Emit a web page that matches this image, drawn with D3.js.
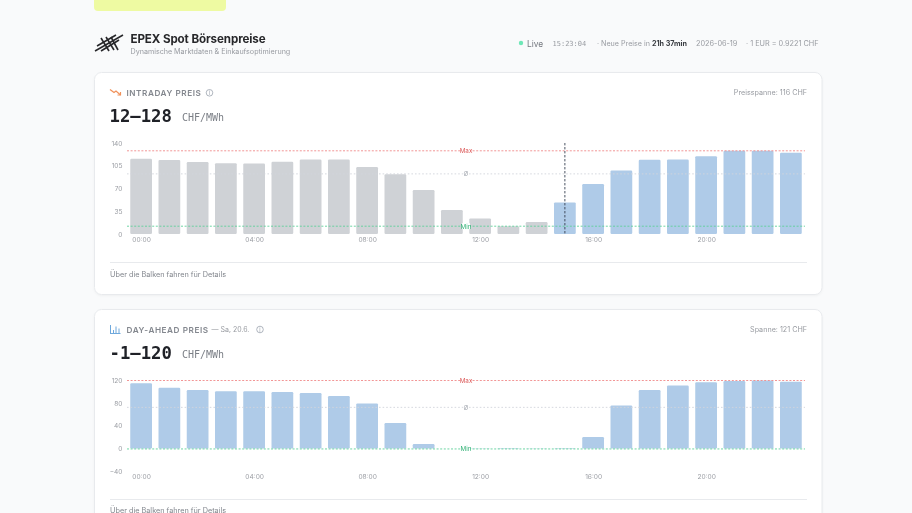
<!DOCTYPE html>
<html>
<head>
<meta charset="utf-8">
<script src="https://cdn.jsdelivr.net/npm/d3@7"></script>
<style>
html, body { margin: 0; padding: 0; background: #f9fafb; overflow: hidden; }
svg { display: block; font-family: Inter, "Noto Sans", sans-serif; will-change: transform; }
.mono { font-family: "DejaVu Sans Mono", monospace; }
.tick text { font-size: 6.6px; fill: #9a9da3; font-family: Inter, sans-serif; }
</style>
</head>
<body>
<svg id="chart" width="912" height="513"></svg>
<script>
const hours = d3.range(24);
const hourLabels = ["00:00", "04:00", "08:00", "12:00", "16:00", "20:00"];

const intradayValues = [115.7, 114, 110.6, 109, 108.5, 111, 114.7, 114.7, 103, 92, 67.6, 37,
  24, 12, 18.4, 48.6, 76.8, 97.8, 114.2, 114.7, 119.8, 128, 128, 125];
const intradayTicks = [0, 35, 70, 105, 140];
const intradayMin = 12, intradayMax = 128, intradayAvg = 92.5;
const currentHour = 15;

const dayAheadValues = [115, 107, 103, 101, 101, 99.6, 98, 92.5, 79.5, 44.8, 7.7, 0,
  -0.5, -1, -0.5, 0.5, 20, 76, 103, 111, 117, 119, 120, 118];
const dayAheadTicks = [-40, 0, 40, 80, 120];
const dayAheadMin = -1, dayAheadMax = 120, dayAheadAvg = 72.5;

const grey = "#cfd2d6", blue = "#afcbe8";
const svg = d3.select("#chart");

function txt(parent, x, y, s, size, fill, opts) {
  opts = opts || {};
  return parent.append("text").attr("x", x).attr("y", y).text(s)
    .attr("font-size", size).attr("fill", fill)
    .attr("font-weight", opts.weight || 400)
    .attr("text-anchor", opts.anchor || "start")
    .attr("letter-spacing", opts.spacing || null)
    .attr("class", opts.cls || null);
}

// banner
svg.append("rect").attr("x", 94).attr("y", -8).attr("width", 132).attr("height", 19)
  .attr("rx", 4).attr("fill", "#eefaa2");

// logo
const logo = svg.append("g").attr("stroke", "#27272a").attr("stroke-width", 1.6).attr("fill", "none");
[[95, 51, 123, 35], [97, 46, 116, 35], [101, 51, 119, 40]].forEach(l =>
  logo.append("line").attr("x1", l[0]).attr("y1", l[1]).attr("x2", l[2]).attr("y2", l[3]));
[[101, 38, 109, 51], [106, 37, 114, 50], [111, 37, 118, 50]].forEach(l =>
  logo.append("line").attr("x1", l[0]).attr("y1", l[1]).attr("x2", l[2]).attr("y2", l[3]));

txt(svg, 130.5, 43, "EPEX Spot Börsenpreise", 11.6, "#27272a", {weight: 700, spacing: -0.1});
txt(svg, 130.5, 54, "Dynamische Marktdaten & Einkaufsoptimierung", 7.15, "#989ba1");

// header right
svg.append("circle").attr("cx", 521).attr("cy", 43).attr("r", 2.2).attr("fill", "#6ee7b7");
txt(svg, 527, 46.5, "Live", 8.4, "#74787f");
txt(svg, 552.5, 46, "15:23:04", 7, "#989ba1", {cls: "mono"});
const neue = txt(svg, 597, 46, "· Neue Preise in ", 7.15, "#989ba1");
neue.append("tspan").text("21h 37min").attr("font-weight", 700).attr("fill", "#3a3d42");
txt(svg, 696, 46, "2026-06-19", 7.3, "#989ba1");
txt(svg, 746, 46, "· 1 EUR = 0.9221 CHF", 7.3, "#989ba1");

function card(y, h) {
  svg.append("rect").attr("x", 94.5).attr("y", y).attr("width", 727.5).attr("height", h)
    .attr("rx", 7).attr("fill", "#fff").attr("stroke", "#e8eaed").attr("stroke-width", 1)
    .style("filter", "drop-shadow(0 1px 1px rgba(0,0,0,.04))");
}

function drawChart(cfg) {
  const x = d3.scaleBand().domain(hours).range([127, 805]).paddingInner(0.23).paddingOuter(0.115);
  const y = d3.scaleLinear().domain(cfg.domain).range(cfg.range);

  const yAxis = d3.axisLeft(y).tickValues(cfg.ticks).tickSize(0).tickPadding(0);
  const ya = svg.append("g").attr("transform", "translate(122.5,0)").call(yAxis);
  ya.select(".domain").remove();

  const xAxis = d3.axisBottom(x).tickValues(hours.filter(h => h % 4 == 0))
    .tickFormat(h => hourLabels[h / 4]).tickSize(0).tickPadding(0);
  const xa = svg.append("g").attr("transform", `translate(0.5,${cfg.xAxisY})`).call(xAxis);
  xa.select(".domain").remove();

  svg.append("g").selectAll("rect").data(cfg.values).enter().append("rect")
    .attr("x", (d, i) => x(i))
    .attr("y", d => y(Math.max(d, 0)))
    .attr("width", x.bandwidth())
    .attr("height", d => Math.abs(y(d) - y(0)))
    .attr("rx", 1.2)
    .attr("fill", (d, i) => cfg.past && i < cfg.past ? grey : blue);

  const refs = [
    {v: cfg.max, c: "#f08a8a", label: "Max", lc: "#dc5a5a", dash: "2 1.6"},
    {v: cfg.avg, c: "#d1d5db", label: "Ø", lc: "#a3a8b0", dash: "1.6 2"},
    {v: cfg.min, c: "#5fd09a", label: "Min", lc: "#34b277", dash: "2 1.6"}
  ];
  refs.forEach(r => {
    svg.append("line").attr("x1", 127).attr("x2", 805).attr("y1", y(r.v)).attr("y2", y(r.v))
      .attr("stroke", r.c).attr("stroke-width", 0.9).attr("stroke-dasharray", r.dash);
    const w = r.label == "Ø" ? 6 : 8;
    svg.append("rect").attr("x", 466 - w / 2).attr("y", y(r.v) - 3).attr("width", w).attr("height", 6)
      .attr("fill", "#fff");
    txt(svg, 466, y(r.v) + 2.3, r.label, 6.3, r.lc, {anchor: "middle"});
  });

  if (cfg.past) {
    const cx = x(cfg.past) + x.bandwidth() / 2;
    svg.append("line").attr("x1", cx).attr("x2", cx).attr("y1", 143).attr("y2", y(0))
      .attr("stroke", "#374151").attr("stroke-width", 0.9).attr("stroke-dasharray", "2.4 1.6");
  }
}

// intraday card
card(72.5, 222);
const trend = svg.append("g").attr("fill", "none").attr("stroke", "#f0915a").attr("stroke-width", 1.2);
trend.append("path").attr("d", d3.line()([[110, 89.5], [114, 92.5], [116, 91], [120.5, 95]]));
trend.append("path").attr("d", d3.line()([[117.5, 95], [120.5, 95], [120.5, 92]]));
txt(svg, 126.5, 96, "INTRADAY PREIS", 8.2, "#83878e", {weight: 600, spacing: 0.55});
svg.append("circle").attr("cx", 209.5).attr("cy", 92.8).attr("r", 3.3).attr("fill", "none").attr("stroke", "#9ca3af").attr("stroke-width", 0.8);
txt(svg, 209.5, 95, "i", 5.5, "#9ca3af", {anchor: "middle"});
txt(svg, 807, 95, "Preisspanne: 116 CHF", 7.2, "#989ba1", {anchor: "end"});
txt(svg, 109.5, 121.5, "12–128", 17.3, "#1f2127", {weight: 700, cls: "mono"});
txt(svg, 182, 121, "CHF/MWh", 10, "#7b7f86", {cls: "mono"});

drawChart({
  values: intradayValues, ticks: intradayTicks, domain: [0, 140], range: [234, 143],
  min: intradayMin, max: intradayMax, avg: intradayAvg, past: currentHour, xAxisY: 237.5
});

svg.append("line").attr("x1", 110).attr("x2", 807).attr("y1", 262.5).attr("y2", 262.5).attr("stroke", "#e8eaed");
txt(svg, 110, 277, "Über die Balken fahren für Details", 7.3, "#83878e");

// day-ahead card
card(309.5, 230);
const bars = svg.append("g").attr("stroke", "#6ea8dc").attr("stroke-width", 1).attr("fill", "none");
[[110.5, 325, 333.5], [113.5, 330, 333.5], [116, 326.5, 333.5], [119, 328.5, 333.5]].forEach(b =>
  bars.append("line").attr("x1", b[0]).attr("x2", b[0]).attr("y1", b[1]).attr("y2", b[2]));
bars.append("line").attr("x1", 110).attr("x2", 120.5).attr("y1", 333.5).attr("y2", 333.5);
txt(svg, 126.5, 332.5, "DAY-AHEAD PREIS", 8.2, "#83878e", {weight: 600, spacing: 0.55});
txt(svg, 211.5, 332, "— Sa, 20.6.", 7, "#989ba1");
svg.append("circle").attr("cx", 260).attr("cy", 329.5).attr("r", 3.3).attr("fill", "none").attr("stroke", "#9ca3af").attr("stroke-width", 0.8);
txt(svg, 260, 331.8, "i", 5.5, "#9ca3af", {anchor: "middle"});
txt(svg, 807, 332, "Spanne: 121 CHF", 7.2, "#989ba1", {anchor: "end"});
txt(svg, 109.5, 358.5, "-1–120", 17.3, "#1f2127", {weight: 700, cls: "mono"});
txt(svg, 182, 358, "CHF/MWh", 10, "#7b7f86", {cls: "mono"});

drawChart({
  values: dayAheadValues, ticks: dayAheadTicks, domain: [-40, 120], range: [471, 380.5],
  min: dayAheadMin, max: dayAheadMax, avg: dayAheadAvg, past: 0, xAxisY: 474.5
});

svg.append("line").attr("x1", 110).attr("x2", 807).attr("y1", 499.5).attr("y2", 499.5).attr("stroke", "#e8eaed");
txt(svg, 110, 513, "Über die Balken fahren für Details", 7.3, "#83878e");
</script>
</body>
</html>
